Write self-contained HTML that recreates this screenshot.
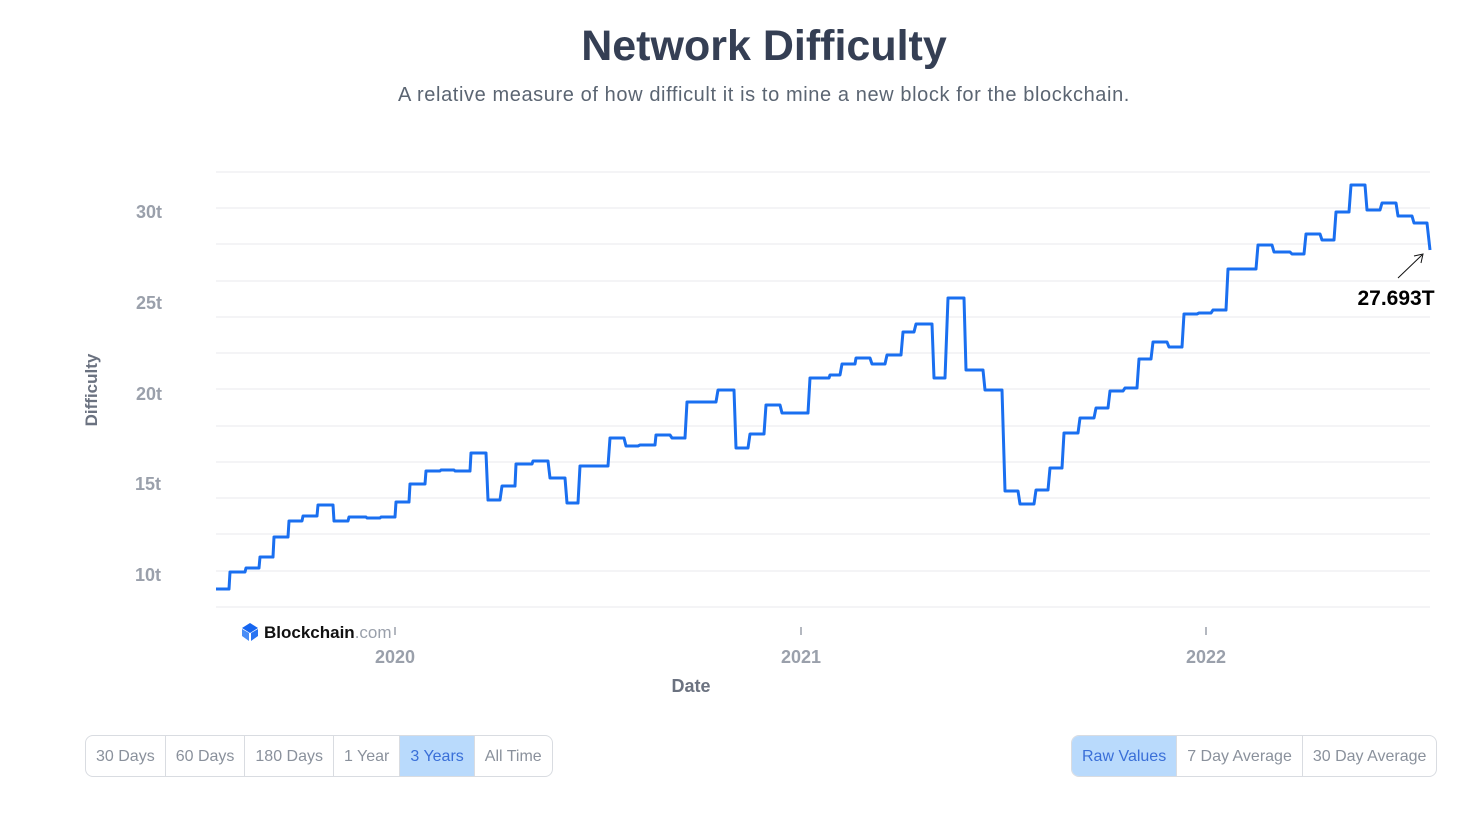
<!DOCTYPE html>
<html><head><meta charset="utf-8"><style>
body{margin:0;background:#fff;font-family:"Liberation Sans",sans-serif;}
.wrap{position:relative;width:1471px;height:820px;overflow:hidden}
h1{position:absolute;top:22px;left:0;width:1528px;text-align:center;margin:0;font-size:43px;font-weight:bold;color:#353f54}
.sub{position:absolute;top:84px;left:0;width:1528px;text-align:center;font-size:20px;letter-spacing:0.6px;color:#5b6572}
.grp{position:absolute;top:735px;height:40px;display:flex;border:1px solid #d9dce1;border-radius:8px;overflow:hidden}
.grp div{height:40px;line-height:42px;padding:0 10px;font-size:16px;color:#8a919c;border-right:1px solid #d9dce1}
.grp div:last-child{border-right:none}
.grp .on{background:#b9dafc;color:#3a6fd8}
</style></head><body><div class="wrap">
<h1>Network Difficulty</h1>
<div class="sub">A relative measure of how difficult it is to mine a new block for the blockchain.</div>
<svg width="1471" height="820" style="position:absolute;left:0;top:0">
<g stroke="#e8e9ee" stroke-width="1">
<line x1="216" x2="1430" y1="172" y2="172"/><line x1="216" x2="1430" y1="208" y2="208"/><line x1="216" x2="1430" y1="244" y2="244"/><line x1="216" x2="1430" y1="281" y2="281"/><line x1="216" x2="1430" y1="317" y2="317"/><line x1="216" x2="1430" y1="353" y2="353"/><line x1="216" x2="1430" y1="389" y2="389"/><line x1="216" x2="1430" y1="426" y2="426"/><line x1="216" x2="1430" y1="462" y2="462"/><line x1="216" x2="1430" y1="498" y2="498"/><line x1="216" x2="1430" y1="534" y2="534"/><line x1="216" x2="1430" y1="571" y2="571"/><line x1="216" x2="1430" y1="607" y2="607"/>
</g>
<g font-size="18" fill="#9aa0ab" text-anchor="end" font-weight="bold">
<text x="162" y="218">30t</text><text x="162" y="309">25t</text><text x="162" y="400">20t</text><text x="161" y="490">15t</text><text x="161" y="581">10t</text>
</g>
<text x="97" y="390" transform="rotate(-90 97 390)" text-anchor="middle" font-size="17" font-weight="bold" fill="#6b7280">Difficulty</text>
<g stroke="#9aa0ab" stroke-width="1.5"><line x1="801" x2="801" y1="627" y2="635"/><line x1="1206" x2="1206" y1="627" y2="635"/><line x1="395" x2="395" y1="627" y2="635"/></g>
<g font-size="18" fill="#9aa0ab" text-anchor="middle" font-weight="bold">
<text x="395" y="663">2020</text><text x="801" y="663">2021</text><text x="1206" y="663">2022</text></g>
<text x="691" y="692" text-anchor="middle" font-size="18" font-weight="bold" fill="#6b7280">Date</text>
<g transform="translate(241,623)"><path d="M9 0 L17 5 L9 10 L1 5Z" fill="#1565f0"/><path d="M1 6 L8 10 L8 18 L1 13Z" fill="#4a8df6"/><path d="M10 10 L17 6 L17 13 L10 18Z" fill="#2a74f2"/></g>
<text x="264" y="638" font-size="17" font-weight="bold" fill="#111">Blockchain<tspan fill="#9aa0ab" font-weight="normal">.com</tspan></text>
<polyline fill="none" stroke="#1a6ff0" stroke-width="3" stroke-linejoin="round" points="216,589 229,589 230,572 245,572 246,568 259,568 260,557 273,557 274,537 288,537 289,521 302,521 303,516 317,516 318,505 333,505 334,521 348,521 349,517 366,517 367,518 380,518 381,517 395,517 396,502 409,502 410,484 425,484 426,471 440,471 441,470 454,470 455,471 470,471 471,453 486,453 488,500 500,500 502,486 515,486 516,464 532,464 533,461 548,461 550,478 565,478 567,503 578,503 580,466 608,466 610,438 624,438 626,446 638,446 640,445 655,445 656,435 670,435 672,438 685,438 687,402 716,402 718,390 734,390 736,448 748,448 750,434 764,434 766,405 780,405 782,413 808,413 810,378 829,378 830,375 840,375 842,364 855,364 856,358 870,358 872,364 885,364 887,355 901,355 903,332 914,332 916,324 932,324 934,378 945,378 948,298 964,298 966,370 983,370 985,390 1002,390 1005,491 1018,491 1020,504 1034,504 1036,490 1048,490 1050,468 1062,468 1064,433 1078,433 1080,418 1094,418 1096,408 1108,408 1110,391 1123,391 1125,388 1137,388 1139,359 1151,359 1153,342 1167,342 1169,347 1182,347 1184,314 1197,314 1199,313 1211,313 1213,310 1226,310 1228,269 1256,269 1258,245 1272,245 1274,252 1290,252 1292,254 1304,254 1306,234 1320,234 1322,240 1334,240 1336,212 1349,212 1351,185 1365,185 1367,210 1380,210 1382,203 1396,203 1398,216 1412,216 1414,223 1427,223 1430,250"/>
<line x1="1398" y1="278" x2="1422" y2="255" stroke="#111" stroke-width="1"/>
<path d="M1414 256 L1423 254 L1421 263" fill="none" stroke="#111" stroke-width="1"/>
<text x="1396" y="305" text-anchor="middle" font-size="21" font-weight="bold" fill="#000">27.693T</text>
</svg>
<div class="grp" style="left:85px"><div>30 Days</div><div>60 Days</div><div>180 Days</div><div>1 Year</div><div class="on">3 Years</div><div>All Time</div></div>
<div class="grp" style="left:1071px"><div class="on">Raw Values</div><div>7 Day Average</div><div>30 Day Average</div></div>
</div></body></html>
